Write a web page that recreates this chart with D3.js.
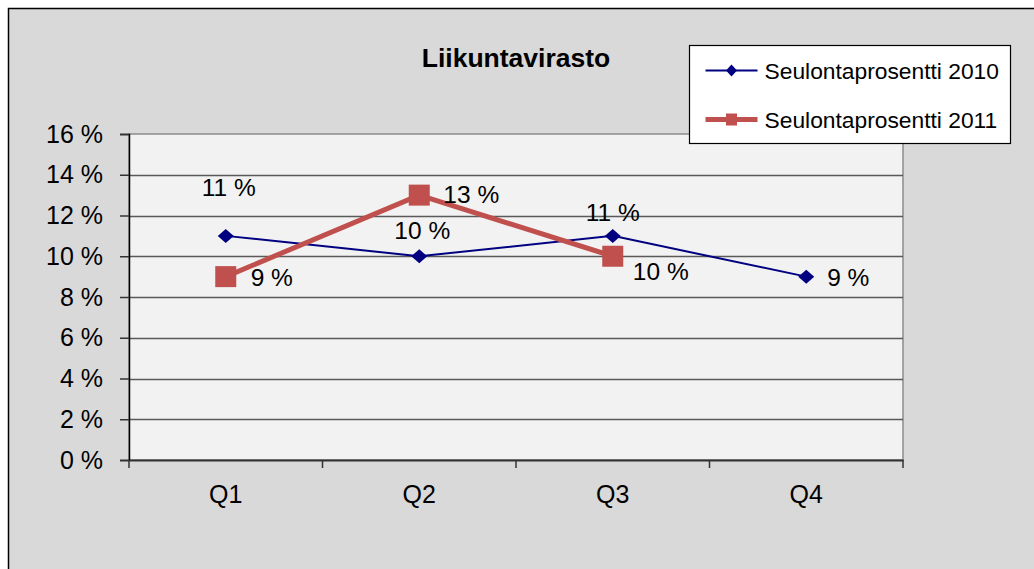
<!DOCTYPE html>
<html>
<head>
<meta charset="utf-8">
<script src="https://cdn.jsdelivr.net/npm/d3@7"></script>
<style>
  body { margin: 0; background: #fff; }
  text { font-family: "Liberation Sans", Arial, sans-serif; fill: #000; }
</style>
</head>
<body>
<script>
var categories = ['Q1', 'Q2', 'Q3', 'Q4'];
var values2010 = [0.11, 0.10, 0.11, 0.09];
var values2011 = [0.09, 0.13, 0.10];
var yTicks = [0, 0.02, 0.04, 0.06, 0.08, 0.10, 0.12, 0.14, 0.16];
var seriesNames = ['Seulontaprosentti 2010', 'Seulontaprosentti 2011'];

// label offsets (dx, dy) as placed in the original
var off2010 = [[3, -40], [3, -17], [0, -15], [42, 9]];
var off2011 = [[46, 9], [52, 8], [48, 24]];

var width = 1034, height = 569;
var margin = {top: 134, left: 129};
var plotW = 903 - margin.left, plotH = 460 - margin.top;

var diamond = "M0,-7L8,0L0,7L-8,0Z";
var smallDiamond = "M0,-6L5.5,0L0,6L-5.5,0Z";
var fmt = function(d) { return Math.round(d * 100) + " %"; };

var svg = d3.select("body").append("svg")
    .attr("width", width)
    .attr("height", height);

svg.append("rect")
    .attr("x", 8.5).attr("y", 8.5)
    .attr("width", width).attr("height", height)
    .attr("fill", "#d9d9d9")
    .attr("stroke", "#000")
    .attr("stroke-width", 1.5);

svg.append("text")
    .attr("x", 516).attr("y", 67)
    .attr("text-anchor", "middle")
    .attr("font-size", "26.5px")
    .attr("font-weight", "bold")
    .text("Liikuntavirasto");

var g = svg.append("g")
    .attr("transform", "translate(" + margin.left + "," + margin.top + ")");

var xScale = d3.scaleBand().domain(categories).range([0, plotW]);
var yScale = d3.scaleLinear().domain([0, 0.16]).range([plotH, 0]);
var cx = function(i) { return xScale(categories[i]) + xScale.bandwidth() / 2; };

g.append("rect")
    .attr("width", plotW).attr("height", plotH)
    .attr("fill", "#f2f2f2")
    .attr("stroke", "#8c8c8c")
    .attr("stroke-width", 1.5);

// gridlines
g.selectAll(".grid").data(yTicks.slice(1, -1)).enter().append("line")
    .attr("x1", 0).attr("x2", plotW)
    .attr("y1", function(d) { return Math.round(yScale(d)) + 0.5; })
    .attr("y2", function(d) { return Math.round(yScale(d)) + 0.5; })
    .attr("stroke", "#5a5a5a")
    .attr("stroke-width", 1.5);

// axis-y
var yAxis = g.append("g")
    .call(d3.axisLeft(yScale).tickValues(yTicks).tickSize(9).tickPadding(17).tickFormat(fmt));
yAxis.select(".domain").attr("stroke", "#000").attr("stroke-width", 1.5);
yAxis.selectAll(".tick line").attr("stroke", "#333").attr("stroke-width", 1.5);
yAxis.selectAll("text").attr("font-size", "25px")
    .attr("font-family", "Liberation Sans, Arial, sans-serif").attr("fill", "#000");

// axis-x
var xAxis = g.append("g")
    .attr("transform", "translate(0," + plotH + ")")
    .call(d3.axisBottom(xScale).tickSize(0).tickPadding(25));
xAxis.select(".domain").attr("stroke", "#333").attr("stroke-width", 2);
xAxis.selectAll("text").attr("font-size", "25px")
    .attr("font-family", "Liberation Sans, Arial, sans-serif").attr("fill", "#000");
g.selectAll(".xtick").data(d3.range(categories.length + 1)).enter().append("line")
    .attr("x1", function(i) { return i * xScale.bandwidth(); })
    .attr("x2", function(i) { return i * xScale.bandwidth(); })
    .attr("y1", plotH).attr("y2", plotH + 8)
    .attr("stroke", "#333").attr("stroke-width", 1.5);

// line 2010
var line = d3.line()
    .x(function(d, i) { return cx(i); })
    .y(function(d) { return yScale(d); });

g.append("path")
    .attr("d", line(values2010))
    .attr("fill", "none")
    .attr("stroke", "#000080")
    .attr("stroke-width", 2);

g.selectAll(".dia").data(values2010).enter().append("path")
    .attr("d", diamond)
    .attr("transform", function(d, i) { return "translate(" + cx(i) + "," + yScale(d) + ")"; })
    .attr("fill", "#000080");

// line 2011
g.append("path")
    .attr("d", line(values2011))
    .attr("fill", "none")
    .attr("stroke", "#c0504d")
    .attr("stroke-width", 5);

g.selectAll(".sq").data(values2011).enter().append("rect")
    .attr("x", function(d, i) { return cx(i) - 10.5; })
    .attr("y", function(d) { return yScale(d) - 10.5; })
    .attr("width", 21).attr("height", 21)
    .attr("fill", "#c0504d");

// data labels
g.selectAll(".l10").data(values2010).enter().append("text")
    .attr("x", function(d, i) { return cx(i) + off2010[i][0]; })
    .attr("y", function(d, i) { return yScale(d) + off2010[i][1]; })
    .attr("text-anchor", "middle")
    .attr("font-size", "24.5px")
    .text(fmt);

g.selectAll(".l11").data(values2011).enter().append("text")
    .attr("x", function(d, i) { return cx(i) + off2011[i][0]; })
    .attr("y", function(d, i) { return yScale(d) + off2011[i][1]; })
    .attr("text-anchor", "middle")
    .attr("font-size", "24.5px")
    .text(fmt);

// legend
var leg = svg.append("g").attr("transform", "translate(689.5,45.5)");
leg.append("rect")
    .attr("width", 321).attr("height", 98)
    .attr("fill", "#fff").attr("stroke", "#000").attr("stroke-width", 1.2);

var lg1 = leg.append("g").attr("transform", "translate(0,25)");
lg1.append("line").attr("x1", 16).attr("x2", 68).attr("stroke", "#000080").attr("stroke-width", 2);
lg1.append("path")
    .attr("d", smallDiamond)
    .attr("transform", "translate(42,0)")
    .attr("fill", "#000080");
lg1.append("text").attr("x", 75).attr("y", 8.5).attr("font-size", "22.8px").text(seriesNames[0]);

var lg2 = leg.append("g").attr("transform", "translate(0,74)");
lg2.append("line").attr("x1", 16).attr("x2", 68).attr("stroke", "#c0504d").attr("stroke-width", 5);
lg2.append("rect").attr("x", 36.5).attr("y", -6).attr("width", 11).attr("height", 12).attr("fill", "#c0504d");
lg2.append("text").attr("x", 75).attr("y", 8.5).attr("font-size", "22.8px").text(seriesNames[1]);
</script>
</body>
</html>
